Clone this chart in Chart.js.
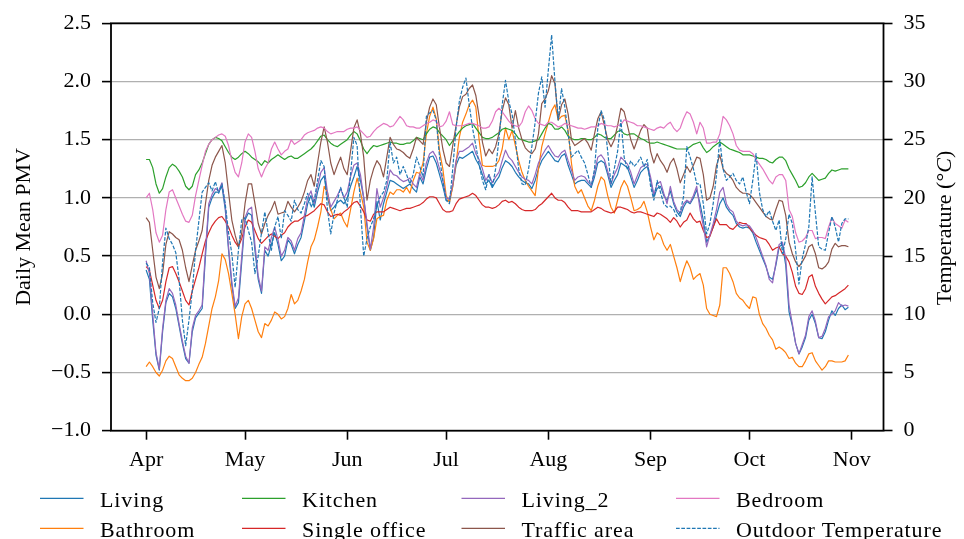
<!DOCTYPE html>
<html><head><meta charset="utf-8">
<script src="https://cdn.jsdelivr.net/npm/chart.js@4.4.1/dist/chart.umd.min.js"></script>
<style>
html,body{margin:0;padding:0;background:#fff;}
#wrap{position:relative;width:964px;height:539px;overflow:hidden;background:#fff;}
#c{position:absolute;left:0;top:0;}
#lgsvg{position:absolute;left:0;top:0;}
.lgt{position:absolute;font-family:"Liberation Serif",serif;font-size:22px;line-height:22px;color:#000;white-space:nowrap;letter-spacing:0.9px;}
</style></head><body>
<div id="wrap"><canvas id="c" width="964" height="539"></canvas><svg id="lgsvg" width="964" height="539" xmlns="http://www.w3.org/2000/svg"></svg></div>
<script>
// ---- categories / ticks ----
const monthLabels = ['Apr','May','Jun','Jul','Aug','Sep','Oct','Nov'];
const monthStartDays = [0,30,61,91,122,153,183,214]; // day offsets from 1 Apr
const seriesNames = ['Living','Bathroom','Kitchen','Single office','Living_2','Traffic area','Bedroom','Outdoor Temperature'];
const seriesColors = ['#1f77b4','#ff7f0e','#2ca02c','#d62728','#9467bd','#8c564b','#e377c2','#1f77b4'];

// ---- daily mean PMV, 1 Apr .. 31 Oct ----
const living = [0.38,0.30,-0.05,-0.35,-0.48,-0.15,0.10,0.18,0.15,0.05,-0.10,-0.25,-0.38,-0.42,-0.15,-0.03,0.01,
0.05,0.50,0.92,1.00,1.05,1.05,1.10,0.90,0.55,0.25,0.05,0.10,0.45,0.81,0.87,0.85,0.55,0.30,0.18,0.55,0.50,0.60,0.70,0.60,0.46,0.50,
0.64,0.60,0.52,0.60,0.66,0.80,0.95,1.02,0.92,1.05,1.15,1.19,1.00,0.89,0.92,0.96,0.98,0.95,1.00,1.10,1.18,1.27,1.15,1.00,0.75,
0.55,0.66,0.97,0.81,0.95,1.05,1.15,1.14,1.12,1.10,1.08,1.10,1.12,1.08,1.05,1.18,1.12,1.25,1.35,1.36,1.30,1.20,1.10,0.98,0.97,1.10,
1.28,1.35,1.34,1.36,1.38,1.40,1.33,1.28,1.20,1.12,1.15,1.09,1.14,1.18,1.26,1.32,1.30,1.27,1.22,1.18,1.15,1.13,1.12,1.08,1.15,1.25,
1.32,1.36,1.40,1.36,1.32,1.31,1.36,1.38,1.28,1.20,1.12,1.14,1.15,1.15,1.12,1.09,1.18,1.30,1.32,1.30,1.20,1.09,1.15,1.20,1.30,
1.28,1.26,1.18,1.09,1.15,1.22,1.25,1.27,1.15,1.01,1.08,1.10,1.02,0.98,1.06,0.95,0.88,0.84,0.92,0.97,0.95,1.00,1.07,0.95,0.81,0.62,
0.68,0.75,0.85,0.95,1.00,0.92,0.88,0.85,0.78,0.75,0.74,0.75,0.74,0.70,0.62,0.55,0.48,0.41,0.32,0.30,0.42,0.58,0.60,0.42,
0.02,-0.10,-0.25,-0.34,-0.28,-0.20,-0.05,0.00,-0.08,-0.20,-0.21,-0.15,-0.05,0.03,-0.01,0.05,0.08,0.04,0.06];

const bathroom = [-0.45,-0.41,-0.45,-0.50,-0.53,-0.48,-0.40,-0.36,-0.38,-0.45,-0.52,-0.55,-0.57,-0.57,-0.55,-0.50,-0.43,
-0.37,-0.25,-0.10,0.05,0.15,0.29,0.52,0.47,0.35,0.18,0.00,-0.21,-0.02,0.09,0.12,0.05,-0.05,-0.15,-0.20,-0.08,-0.10,-0.05,0.02,0.00,-0.04,-0.02,
0.05,0.17,0.09,0.12,0.20,0.30,0.45,0.58,0.64,0.75,0.88,1.10,1.05,0.90,0.82,0.85,0.87,0.80,0.75,0.90,1.05,1.17,1.05,0.92,0.62,
0.55,0.65,0.82,0.84,0.85,0.98,1.05,1.03,1.07,1.07,1.05,1.09,1.04,1.15,1.22,1.21,1.30,1.55,1.70,1.78,1.68,1.40,1.25,1.02,0.96,1.10,
1.30,1.52,1.65,1.72,1.80,1.84,1.78,1.50,1.28,1.27,1.27,1.27,1.28,1.32,1.42,1.60,1.50,1.58,1.45,1.32,1.22,1.15,1.10,1.06,1.02,1.25,
1.44,1.55,1.65,1.75,1.80,1.67,1.70,1.71,1.58,1.30,1.10,1.04,1.07,1.00,0.93,0.89,0.98,1.10,1.18,1.15,1.02,0.92,0.87,0.98,1.09,
1.15,1.10,1.00,0.89,0.90,0.92,0.97,0.88,0.75,0.64,0.70,0.68,0.60,0.55,0.60,0.50,0.40,0.28,0.38,0.46,0.40,0.30,0.33,0.35,0.25,0.05,
0.00,-0.01,-0.02,0.08,0.40,0.40,0.35,0.28,0.18,0.14,0.12,0.08,0.05,0.15,0.14,0.00,-0.08,-0.12,-0.18,-0.22,-0.30,-0.28,-0.30,-0.33,
-0.38,-0.37,-0.42,-0.45,-0.45,-0.40,-0.34,-0.33,-0.40,-0.44,-0.48,-0.45,-0.40,-0.40,-0.41,-0.41,-0.41,-0.40,-0.35];

const kitchen = [1.33,1.33,1.26,1.12,1.04,1.08,1.18,1.26,1.29,1.27,1.23,1.18,1.10,1.07,1.10,1.20,1.24,
1.30,1.38,1.46,1.50,1.52,1.51,1.49,1.44,1.39,1.35,1.33,1.35,1.38,1.40,1.38,1.35,1.33,1.31,1.28,1.32,1.30,1.33,1.35,1.37,1.35,1.33,
1.35,1.36,1.34,1.34,1.36,1.38,1.40,1.42,1.45,1.49,1.53,1.54,1.50,1.47,1.45,1.44,1.46,1.48,1.50,1.54,1.57,1.55,1.49,1.42,1.38,
1.42,1.45,1.44,1.45,1.46,1.47,1.48,1.47,1.47,1.46,1.46,1.47,1.47,1.49,1.52,1.51,1.50,1.55,1.59,1.61,1.60,1.56,1.53,1.50,1.45,1.49,
1.53,1.57,1.60,1.62,1.63,1.64,1.60,1.56,1.52,1.51,1.51,1.52,1.54,1.56,1.59,1.60,1.59,1.58,1.55,1.51,1.50,1.49,1.48,1.48,1.49,1.50,
1.55,1.60,1.64,1.63,1.59,1.59,1.61,1.58,1.53,1.51,1.50,1.50,1.51,1.51,1.50,1.50,1.52,1.55,1.54,1.52,1.51,1.51,1.54,1.57,1.58,
1.55,1.54,1.55,1.55,1.53,1.51,1.50,1.48,1.47,1.47,1.48,1.47,1.46,1.45,1.44,1.43,1.42,1.42,1.42,1.42,1.44,1.46,1.47,1.48,1.43,1.39,
1.41,1.44,1.46,1.48,1.46,1.44,1.42,1.41,1.40,1.39,1.37,1.37,1.37,1.36,1.35,1.34,1.34,1.33,1.31,1.30,1.33,1.35,1.35,1.32,
1.25,1.20,1.15,1.09,1.10,1.13,1.18,1.21,1.18,1.15,1.16,1.17,1.21,1.24,1.23,1.24,1.25,1.25,1.25];

const singleOffice = [0.41,0.38,0.25,0.12,0.05,0.12,0.28,0.40,0.41,0.35,0.28,0.20,0.12,0.08,0.20,0.30,0.40,
0.52,0.63,0.70,0.76,0.80,0.83,0.84,0.80,0.75,0.68,0.62,0.58,0.65,0.75,0.81,0.79,0.72,0.65,0.61,0.64,0.67,0.69,0.67,0.65,0.68,0.70,
0.75,0.78,0.80,0.80,0.82,0.84,0.85,0.87,0.89,0.92,0.95,0.94,0.88,0.84,0.85,0.86,0.85,0.88,0.90,0.93,0.96,0.97,0.93,0.88,0.81,
0.80,0.86,0.88,0.88,0.88,0.90,0.92,0.91,0.90,0.89,0.90,0.91,0.91,0.92,0.93,0.94,0.96,0.99,1.01,1.01,1.00,0.95,0.90,0.88,0.88,0.89,
0.95,0.99,1.00,1.01,1.02,1.04,1.02,0.98,0.94,0.92,0.92,0.91,0.92,0.94,0.97,0.98,0.96,0.97,0.95,0.92,0.90,0.89,0.89,0.89,0.90,0.93,
0.95,0.98,1.01,1.04,1.00,0.98,0.98,0.96,0.92,0.89,0.89,0.89,0.88,0.88,0.88,0.88,0.90,0.92,0.91,0.89,0.88,0.87,0.88,0.92,0.92,
0.91,0.90,0.88,0.87,0.88,0.88,0.87,0.86,0.85,0.84,0.87,0.86,0.84,0.82,0.79,0.83,0.80,0.75,0.79,0.81,0.87,0.82,0.79,0.80,0.72,0.66,
0.67,0.75,0.82,0.77,0.77,0.77,0.74,0.73,0.76,0.79,0.78,0.78,0.74,0.71,0.68,0.66,0.65,0.64,0.60,0.55,0.57,0.58,0.52,0.50,
0.45,0.36,0.24,0.18,0.17,0.22,0.32,0.34,0.24,0.18,0.13,0.09,0.12,0.15,0.16,0.18,0.20,0.22,0.25];

const living2 = [0.46,0.35,0.00,-0.33,-0.47,-0.12,0.12,0.22,0.18,0.08,-0.08,-0.23,-0.36,-0.42,-0.12,-0.01,0.03,
0.08,0.55,0.95,1.03,1.08,1.06,1.13,0.93,0.58,0.28,0.07,0.14,0.50,0.83,0.90,0.92,0.60,0.33,0.20,0.58,0.55,0.66,0.75,0.64,0.50,0.55,
0.66,0.63,0.55,0.65,0.70,0.85,1.00,1.06,0.95,1.10,1.22,1.26,1.05,0.92,0.97,1.02,1.08,1.00,1.05,1.18,1.28,1.30,1.20,1.00,0.78,
0.56,0.75,1.08,0.92,1.00,1.10,1.24,1.20,1.19,1.16,1.14,1.15,1.17,1.12,1.09,1.21,1.15,1.30,1.38,1.40,1.35,1.25,1.15,1.00,0.99,1.12,
1.32,1.40,1.40,1.42,1.44,1.47,1.38,1.33,1.25,1.15,1.20,1.13,1.18,1.22,1.32,1.41,1.35,1.32,1.27,1.22,1.18,1.16,1.15,1.12,1.20,1.30,
1.36,1.41,1.45,1.40,1.36,1.35,1.39,1.41,1.32,1.24,1.15,1.18,1.19,1.18,1.14,1.11,1.22,1.35,1.37,1.33,1.23,1.12,1.20,1.26,1.35,
1.32,1.29,1.22,1.12,1.19,1.26,1.28,1.29,1.18,1.03,1.12,1.14,1.04,0.95,1.10,0.97,0.90,0.87,0.95,0.98,0.96,1.02,1.10,0.90,0.76,0.58,
0.68,0.78,0.90,1.05,1.09,0.95,0.90,0.88,0.80,0.77,0.76,0.77,0.76,0.72,0.66,0.58,0.50,0.42,0.30,0.27,0.44,0.60,0.62,0.48,
0.08,-0.08,-0.25,-0.34,-0.26,-0.18,-0.02,0.03,-0.06,-0.20,-0.19,-0.12,-0.02,0.00,0.03,0.10,0.07,0.08,0.07];

const trafficArea = [0.83,0.79,0.55,0.32,0.22,0.35,0.60,0.71,0.69,0.66,0.64,0.55,0.40,0.28,0.42,0.55,0.63,
0.72,0.95,1.15,1.28,1.35,1.40,1.45,1.30,1.05,0.81,0.68,0.58,0.70,0.95,1.12,1.12,0.95,0.78,0.69,0.78,0.85,0.90,0.97,0.86,0.87,0.88,
0.97,0.92,0.88,0.92,0.97,1.05,1.15,1.20,1.10,1.30,1.48,1.61,1.48,1.30,1.20,1.28,1.35,1.25,1.20,1.40,1.60,1.67,1.55,1.35,0.98,
1.15,1.25,1.32,1.28,1.18,1.35,1.52,1.46,1.42,1.41,1.39,1.36,1.34,1.42,1.52,1.49,1.46,1.65,1.78,1.85,1.80,1.60,1.42,1.30,1.27,1.45,
1.62,1.78,1.87,1.89,1.94,1.97,1.88,1.70,1.48,1.36,1.42,1.38,1.44,1.55,1.75,1.86,1.80,1.60,1.75,1.60,1.50,1.43,1.40,1.38,1.42,1.55,
1.81,1.85,1.92,2.05,1.98,1.67,1.80,1.85,1.72,1.50,1.45,1.47,1.49,1.51,1.47,1.41,1.55,1.68,1.74,1.62,1.50,1.44,1.50,1.62,1.77,
1.74,1.62,1.50,1.42,1.50,1.58,1.63,1.60,1.40,1.30,1.38,1.32,1.28,1.22,1.30,1.34,1.25,1.13,1.20,1.27,1.22,1.28,1.35,1.34,1.20,0.98,
1.00,1.10,1.28,1.37,1.25,1.21,1.19,1.15,1.09,1.06,1.04,1.04,1.03,1.00,0.96,0.92,0.88,0.84,0.82,0.81,0.90,0.98,0.97,0.85,
0.62,0.52,0.45,0.41,0.45,0.50,0.58,0.60,0.52,0.40,0.39,0.41,0.45,0.56,0.61,0.58,0.59,0.59,0.58];

const bedroom = [1.00,1.04,0.90,0.70,0.62,0.68,0.90,1.05,1.07,1.00,0.93,0.86,0.80,0.79,0.85,1.02,1.15,
1.28,1.40,1.46,1.50,1.52,1.54,1.55,1.53,1.45,1.32,1.22,1.18,1.30,1.48,1.55,1.52,1.40,1.25,1.18,1.25,1.30,1.42,1.48,1.42,1.37,1.40,
1.42,1.50,1.46,1.48,1.50,1.54,1.56,1.57,1.58,1.60,1.61,1.60,1.57,1.55,1.56,1.57,1.57,1.57,1.59,1.60,1.60,1.61,1.58,1.55,1.52,
1.53,1.57,1.60,1.62,1.64,1.63,1.61,1.62,1.66,1.70,1.67,1.62,1.61,1.61,1.60,1.60,1.62,1.64,1.65,1.67,1.66,1.61,1.62,1.66,1.74,1.63,
1.62,1.62,1.62,1.63,1.64,1.64,1.63,1.62,1.60,1.60,1.61,1.66,1.74,1.77,1.74,1.70,1.66,1.63,1.62,1.61,1.65,1.74,1.79,1.75,1.68,1.64,
1.63,1.62,1.65,1.65,1.63,1.61,1.62,1.64,1.63,1.62,1.61,1.60,1.60,1.59,1.60,1.61,1.61,1.62,1.64,1.63,1.62,1.62,1.61,1.62,1.63,
1.67,1.66,1.65,1.64,1.62,1.62,1.61,1.60,1.59,1.58,1.60,1.61,1.60,1.63,1.65,1.60,1.57,1.60,1.68,1.74,1.72,1.65,1.55,1.65,1.60,1.47,
1.47,1.48,1.48,1.55,1.70,1.67,1.62,1.55,1.45,1.41,1.40,1.40,1.40,1.38,1.33,1.29,1.25,1.20,1.15,1.12,1.18,1.20,1.20,1.15,
0.90,0.84,0.70,0.62,0.63,0.66,0.72,0.72,0.65,0.66,0.66,0.65,0.75,0.83,0.78,0.76,0.74,0.81,0.79];

// ---- daily mean outdoor temperature (°C), right axis ----
const outdoorTemp = [14.4,14.0,11.0,9.3,10.5,14.5,17.4,16.5,16.0,15.3,13.0,9.5,7.3,9.5,12.0,15.5,18.0,
20.5,20.9,21.3,20.6,21.4,20.4,21.2,19.5,17.0,15.2,12.3,15.5,18.1,18.3,17.2,16.2,13.5,15.0,17.0,18.8,17.0,15.5,17.5,18.4,16.5,18.9,
18.5,18.0,19.8,19.0,18.7,19.5,20.4,19.2,19.8,21.5,23.2,22.7,19.0,16.9,18.7,19.8,20.9,20.0,19.2,22.0,25.2,24.5,19.2,15.0,16.5,
17.5,18.2,19.3,20.1,20.5,21.5,24.8,23.0,23.5,22.0,22.7,22.0,21.2,22.0,23.5,22.7,21.8,27.0,27.3,27.5,26.7,23.5,21.5,19.8,19.5,22.5,
26.0,28.3,29.5,30.3,28.0,26.0,24.5,22.9,21.5,20.7,22.0,20.9,22.5,25.0,28.0,30.1,28.3,27.2,25.0,22.5,21.2,21.1,22.5,24.4,26.5,29.0,
30.4,27.8,31.0,34.0,30.0,26.7,29.4,27.8,25.5,23.5,23.8,24.1,23.5,23.0,22.0,20.9,22.5,26.0,27.5,26.7,24.0,21.2,22.5,24.0,26.7,
23.5,22.4,23.2,22.7,23.0,23.5,22.7,23.3,21.0,19.8,21.5,20.5,19.5,19.2,19.3,19.0,18.4,18.8,20.1,24.4,23.5,22.5,21.2,21.2,19.5,16.9,
17.8,19.5,22.0,25.0,22.5,21.5,21.8,22.1,21.5,21.2,21.8,20.5,19.5,21.5,23.8,20.5,19.0,18.4,18.9,18.0,17.2,18.1,15.2,16.5,
18.6,17.8,15.5,12.6,14.8,16.0,17.5,21.8,18.7,15.8,15.6,15.5,17.0,18.4,17.5,16.2,17.8,18.2,18.2];

// ---- build chart ----
const FONT = '"Liberation Serif", serif';
Chart.defaults.font.family = FONT;
Chart.defaults.font.size = 22;
Chart.defaults.color = '#000';

const pmvSeries = [living, bathroom, kitchen, singleOffice, living2, trafficArea, bedroom];
const toPoints = arr => arr.map((v, i) => ({x: i, y: v}));
const datasets = pmvSeries.map((arr, k) => ({
  label: seriesNames[k], data: toPoints(arr), yAxisID: 'y',
  borderColor: seriesColors[k], borderWidth: 1.2, pointRadius: 0, tension: 0,
  borderJoinStyle: 'round', fill: false, order: 8 - k
}));
datasets.push({
  label: seriesNames[7], data: toPoints(outdoorTemp), yAxisID: 'y2',
  borderColor: seriesColors[7], borderWidth: 1.2, borderDash: [3.7, 1.6], pointRadius: 0, tension: 0,
  borderJoinStyle: 'round', fill: false, order: 0
});

const framePlugin = {
  id: 'frameAndRightTitle',
  afterDraw(chart) {
    const {ctx, chartArea: a} = chart;
    ctx.save();
    ctx.strokeStyle = '#000';
    ctx.lineWidth = 1.8;
    ctx.strokeRect(a.left, a.top, a.right - a.left, a.bottom - a.top);
    // right axis title: Temperature (°C) with italic C, reading bottom to top
    const parts = [['Temperature (\u00B0', '22px ' + FONT], ['C', 'italic 22px ' + FONT], [')', '22px ' + FONT]];
    let total = 0;
    const widths = parts.map(p => { ctx.font = p[1]; const w = ctx.measureText(p[0]).width; total += w; return w; });
    ctx.translate(945, (a.top + a.bottom) / 2 + 1);
    ctx.rotate(-Math.PI / 2);
    ctx.fillStyle = '#000';
    ctx.textBaseline = 'middle';
    ctx.textAlign = 'left';
    let x = -total / 2;
    parts.forEach((p, i) => { ctx.font = p[1]; ctx.fillText(p[0], x, 0); x += widths[i]; });
    ctx.restore();
  }
};

const tickFont = {size: 22, lineHeight: 1};
const chart = new Chart(document.getElementById('c'), {
  type: 'line',
  data: {datasets},
  options: {
    responsive: false, animation: false, devicePixelRatio: 1,
    layout: {padding: {top: 23.3, bottom: 63.3, left: 0, right: 0}},
    plugins: {legend: {display: false}, tooltip: {enabled: false}},
    scales: {
      x: {
        type: 'linear', position: 'bottom', min: -10.65, max: 223.65,
        grid: {display: true, drawOnChartArea: false, drawTicks: true, tickLength: 9, tickColor: '#000', tickWidth: 1.6},
        border: {display: false},
        ticks: {color: '#000', font: tickFont, padding: 10, maxRotation: 0, autoSkip: false,
          callback: v => { const i = monthStartDays.indexOf(v); return i >= 0 ? monthLabels[i] : ''; }},
        afterBuildTicks: s => { s.ticks = monthStartDays.map(v => ({value: v})); },
        afterFit: s => { s.height = 45; }
      },
      y: {
        type: 'linear', position: 'left', min: -1, max: 2.5,
        ticks: {stepSize: 0.5, color: '#000', font: tickFont, padding: 11,
          callback: v => Number(v).toFixed(1).replace('-', '\u2212')},
        grid: {color: '#b0b0b0', lineWidth: 1.2, drawTicks: true, tickLength: 9, tickColor: '#000', tickWidth: 1.6},
        border: {display: false},
        title: {display: true, text: 'Daily Mean PMV', color: '#000', font: {size: 22, lineHeight: 1}, padding: {top: 13.5, bottom: 0}},
        afterFit: s => { s.width = 111; }
      },
      y2: {
        type: 'linear', position: 'right', min: 0, max: 35,
        ticks: {stepSize: 5, color: '#000', font: tickFont, padding: 11, callback: v => String(v)},
        grid: {drawOnChartArea: false, drawTicks: true, tickLength: 9, tickColor: '#000', tickWidth: 1.6},
        border: {display: false},
        afterFit: s => { s.width = 80.5; }
      }
    }
  },
  plugins: [framePlugin]
});

// ---- HTML legend built from the chart's datasets (4 columns, filled column-wise) ----
const legendLineX = [40, 242, 461.5, 676];
const legendRowY = [498.3, 528.3];
const svg = document.getElementById('lgsvg');
const wrap = document.getElementById('wrap');
seriesNames.forEach((name, i) => {
  const ds = chart.data.datasets[i];
  const col = Math.floor(i / 2), row = i % 2;
  const x0 = legendLineX[col], y0 = legendRowY[row];
  const ln = document.createElementNS('http://www.w3.org/2000/svg', 'line');
  ln.setAttribute('x1', x0); ln.setAttribute('x2', x0 + 43.5);
  ln.setAttribute('y1', y0); ln.setAttribute('y2', y0);
  ln.setAttribute('stroke', ds.borderColor);
  ln.setAttribute('stroke-width', '1.2');
  if (ds.borderDash) ln.setAttribute('stroke-dasharray', ds.borderDash.join(' '));
  svg.appendChild(ln);
  const t = document.createElement('div');
  t.className = 'lgt';
  t.textContent = ds.label;
  t.style.left = (x0 + 60) + 'px';
  t.style.top = (y0 - 9.7) + 'px';
  wrap.appendChild(t);
});
</script>
</body></html>
